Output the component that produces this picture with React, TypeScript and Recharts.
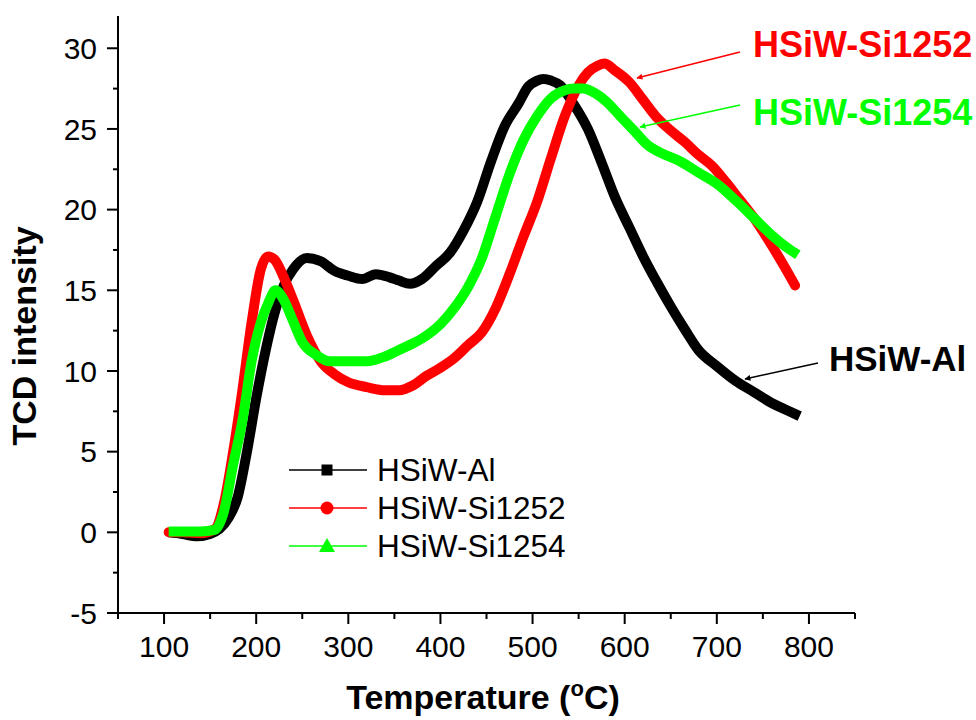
import { LineChart, Line, XAxis, YAxis, Legend } from 'recharts'

// HSiW-Al
const alTemp = [105, 120, 135, 150, 160, 170, 180, 190, 200, 210, 220, 230, 240, 255, 270, 285, 300, 315, 330, 345, 355, 367, 380, 395, 410, 425, 440, 455, 470, 485, 495, 505, 512, 520, 530, 545, 560, 575, 590, 605, 620, 635, 650, 665, 680, 700, 720, 740, 760, 775, 790]
const alTcd = [0, -0.1, -0.25, -0.1, 0.2, 0.9, 2.2, 5.0, 8.3, 11.2, 13.6, 15.3, 16.3, 17.0, 16.8, 16.2, 15.9, 15.7, 16.0, 15.8, 15.6, 15.4, 15.7, 16.5, 17.3, 18.7, 20.5, 23.0, 25.2, 26.6, 27.6, 28.0, 28.1, 28.0, 27.7, 26.5, 25.0, 22.9, 20.7, 18.9, 17.1, 15.5, 14.0, 12.6, 11.3, 10.3, 9.4, 8.7, 8.0, 7.6, 7.2]

// HSiW-Si1252
const si1252Temp = [105, 120, 140, 155, 165, 175, 185, 195, 205, 213, 220, 230, 240, 255, 270, 285, 300, 320, 340, 355, 370, 385, 400, 415, 430, 445, 460, 475, 490, 505, 520, 535, 550, 560, 570, 578, 590, 605, 620, 635, 650, 665, 680, 695, 710, 725, 740, 755, 770, 785]
const si1252Tcd = [0, 0, -0.05, 0.2, 1.8, 5.0, 8.8, 13.0, 16.3, 17.1, 16.9, 15.8, 14.4, 12.2, 10.6, 9.8, 9.3, 9.0, 8.8, 8.8, 9.1, 9.7, 10.2, 10.8, 11.6, 12.4, 13.9, 16.0, 18.3, 20.5, 23.2, 25.8, 27.7, 28.5, 28.9, 29.05, 28.6, 27.9, 26.8, 25.7, 24.9, 24.2, 23.4, 22.7, 21.7, 20.6, 19.5, 18.2, 16.8, 15.3]

// HSiW-Si1254
const si1254Temp = [105, 120, 140, 155, 165, 175, 185, 195, 205, 213, 221, 230, 240, 250, 265, 280, 300, 320, 340, 355, 370, 385, 400, 415, 430, 445, 460, 475, 490, 505, 520, 535, 545, 555, 565, 580, 595, 610, 625, 640, 660, 680, 700, 720, 740, 760, 775, 788]
const si1254Tcd = [0.05, 0.05, 0.05, 0.15, 1.3, 4.2, 6.9, 10.6, 13.0, 14.2, 15.0, 14.4, 13.1, 11.8, 11.0, 10.6, 10.6, 10.6, 10.9, 11.3, 11.7, 12.2, 12.9, 13.9, 15.2, 17.0, 19.6, 22.2, 24.3, 25.8, 26.9, 27.4, 27.5, 27.5, 27.3, 26.7, 25.8, 24.9, 24.0, 23.5, 23.0, 22.3, 21.6, 20.6, 19.5, 18.4, 17.7, 17.2]

const xTicks = [50, 100, 150, 200, 250, 300, 350, 400, 450, 500, 550, 600, 650, 700, 750, 800, 850]
const yTicks = [-5, -2.5, 0, 2.5, 5, 7.5, 10, 12.5, 15, 17.5, 20, 22.5, 25, 27.5, 30]

const toRows = (temp: number[], tcd: number[]) => temp.map((t, i) => ({ t, v: tcd[i] }))

const series = [
  { name: 'HSiW-Al', color: '#000000', shape: 'square', data: toRows(alTemp, alTcd) },
  { name: 'HSiW-Si1252', color: '#ff0000', shape: 'circle', data: toRows(si1252Temp, si1252Tcd) },
  { name: 'HSiW-Si1254', color: '#00ff00', shape: 'triangle', data: toRows(si1254Temp, si1254Tcd) },
]

const FONT = "'Liberation Sans', Arial, Helvetica, sans-serif"

function XTick({ x, y, payload }: any) {
  const major = payload.value % 100 === 0
  return (
    <g>
      <line x1={x} x2={x} y1={y} y2={y + (major ? 11 : 6)} stroke="#000" strokeWidth={2} />
      {major && (
        <text x={x} y={y + 44} textAnchor="middle" fontSize={30} fontFamily={FONT} fill="#000">
          {payload.value}
        </text>
      )}
    </g>
  )
}

function YTick({ x, y, payload }: any) {
  const major = payload.value % 5 === 0
  return (
    <g>
      <line x1={x - (major ? 11 : 5)} x2={x} y1={y} y2={y} stroke="#000" strokeWidth={2} />
      {major && (
        <text x={x - 21} y={y + 10.7} textAnchor="end" fontSize={30} fontFamily={FONT} fill="#000">
          {payload.value}
        </text>
      )}
    </g>
  )
}

function Marker({ shape, color, cx, cy }: { shape: string; color: string; cx: number; cy: number }) {
  if (shape === 'square') return <rect x={cx - 5.5} y={cy - 5.5} width={11} height={11} fill={color} />
  if (shape === 'circle') return <circle cx={cx} cy={cy} r={6.5} fill={color} />
  return <polygon points={`${cx},${cy - 8} ${cx + 8},${cy + 6} ${cx - 8},${cy + 6}`} fill={color} />
}

function LegendBox({ payload }: any) {
  return (
    <svg width={300} height={125}>
      {(payload || []).map((item: any, i: number) => {
        const s = series.find((d) => d.name === item.value) || series[i]
        const cy = 25 + i * 38
        return (
          <g key={item.value}>
            <line x1={9} x2={87} y1={cy} y2={cy} stroke={s.color} strokeWidth={1.6} />
            <Marker shape={s.shape} color={s.color} cx={47} cy={cy} />
            <text x={97} y={cy + 11} fontSize={31.5} fontFamily={FONT} fill="#000">
              {item.value}
            </text>
          </g>
        )
      })}
    </svg>
  )
}

export default function App() {
  return (
    <div style={{ position: 'absolute', left: 0, top: 0, width: 976, height: 720, background: '#fff' }}>
      <LineChart width={976} height={720} margin={{ top: 16, right: 121, bottom: 0, left: 0 }}>
        <XAxis
          dataKey="t"
          type="number"
          domain={[50, 850]}
          ticks={xTicks}
          interval={0}
          height={107}
          tickSize={0}
          tickMargin={0}
          tick={<XTick />}
          axisLine={{ stroke: '#000', strokeWidth: 2 }}
          tickLine={false}
          allowDuplicatedCategory={false}
        />
        <YAxis
          type="number"
          domain={[-5, 32]}
          ticks={yTicks}
          interval={0}
          width={118}
          tickSize={0}
          tickMargin={0}
          tick={<YTick />}
          axisLine={{ stroke: '#000', strokeWidth: 2 }}
          tickLine={false}
        />
        <Legend
          layout="vertical"
          align="center"
          verticalAlign="middle"
          wrapperStyle={{ position: 'absolute', left: 280, top: 445, width: 300, height: 125 }}
          content={<LegendBox />}
        />
        {series.map((s) => (
          <Line
            key={s.name}
            data={s.data}
            dataKey="v"
            name={s.name}
            type="monotone"
            stroke={s.color}
            strokeWidth={10}
            strokeLinejoin="round"
            strokeLinecap={s.shape === 'circle' ? 'round' : 'butt'}
            dot={false}
            activeDot={false}
            isAnimationActive={false}
          />
        ))}
      </LineChart>

      {/* axis titles and callouts */}
      <svg width={976} height={720} style={{ position: 'absolute', left: 0, top: 0, pointerEvents: 'none' }}>
        <defs>
          {series.map((s) => (
            <marker
              key={s.name}
              id={`arrow-${s.shape}`}
              viewBox="0 0 10 10"
              refX={9}
              refY={5}
              markerWidth={9}
              markerHeight={6}
              orient="auto"
              markerUnits="userSpaceOnUse"
            >
              <path d="M0,0 L10,5 L0,10 z" fill={s.color} />
            </marker>
          ))}
        </defs>
        <text
          x={36}
          y={336}
          transform="rotate(-90 36 336)"
          textAnchor="middle"
          fontSize={34}
          fontWeight="bold"
          fontFamily={FONT}
          fill="#000"
        >
          TCD intensity
        </text>
        <text x={483} y={709} textAnchor="middle" fontSize={34} fontWeight="bold" fontFamily={FONT} fill="#000">
          <tspan>Temperature (</tspan>
          <tspan dy={-13} fontSize={22}>o</tspan>
          <tspan dy={13}>C)</tspan>
        </text>

        <line x1={740} y1={52} x2={637} y2={78} stroke="#ff0000" strokeWidth={1.5} markerEnd="url(#arrow-circle)" />
        <text x={753} y={57} fontSize={36} fontWeight="bold" fontFamily={FONT} fill="#ff0000">
          HSiW-Si1252
        </text>

        <line x1={740} y1={105} x2={640} y2={127} stroke="#00ff00" strokeWidth={1.5} markerEnd="url(#arrow-triangle)" />
        <text x={753} y={125} fontSize={36} fontWeight="bold" fontFamily={FONT} fill="#00ff00">
          HSiW-Si1254
        </text>

        <line x1={818} y1={363} x2={745} y2={379} stroke="#000" strokeWidth={1.5} markerEnd="url(#arrow-square)" />
        <text x={829} y={371} fontSize={35} fontWeight="bold" fontFamily={FONT} fill="#000">
          HSiW-Al
        </text>
      </svg>
    </div>
  )
}
